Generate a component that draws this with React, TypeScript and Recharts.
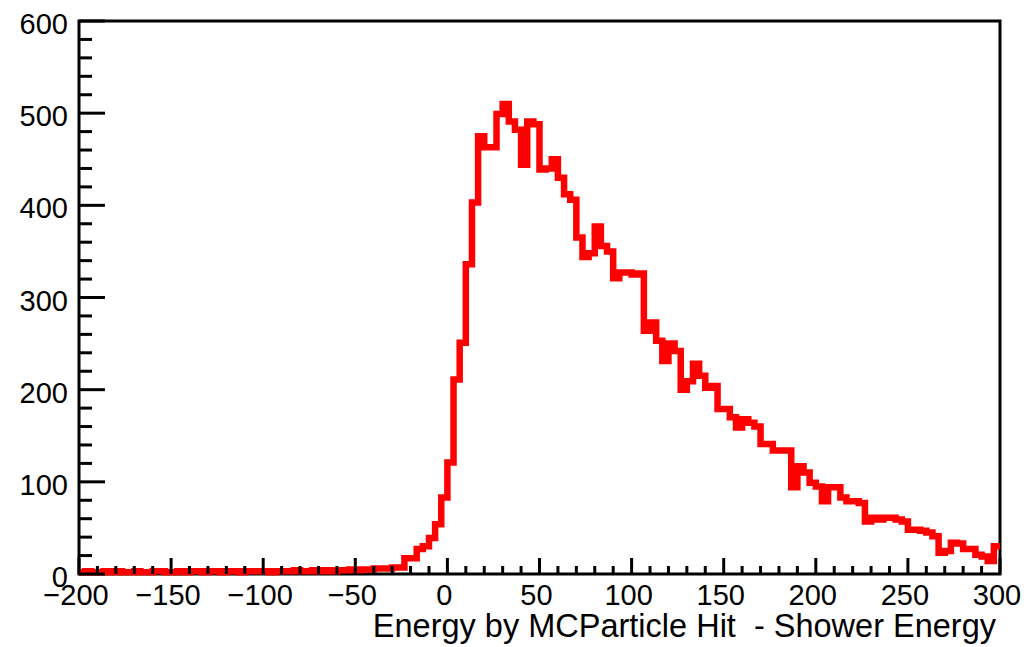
import { Label, Line, LineChart, ReferenceArea, XAxis, YAxis } from "recharts";

const X_MIN = -200;
const X_MAX = 300;
const BIN_WIDTH = 10 / 3;

// bins from -200 to -66.7
const tailCounts = [
  2, 3, 2, 2, 3, 2, 3, 2, 2, 3,
  2, 2, 3, 3, 2, 2, 3, 2, 3, 3,
  2, 3, 3, 2, 3, 3, 2, 3, 3, 3,
  3, 2, 3, 3, 3, 4, 3, 3, 4, 3,
];
// -66.7 .. -23.3
const preRiseCounts = [4, 3, 4, 4, 5, 4, 5, 5, 6, 6, 6, 7, 7];
// -23.3 .. 60
const peakCounts = [
  17, 17, 27, 30, 39, 54, 83, 121, 211, 251, 336, 403, 475, 463, 463, 499,
  510, 491, 482, 444, 491, 488, 439, 440, 450,
];
// 60 .. 300
const fallCounts = [
  430, 412, 406, 365, 344, 348, 377, 356, 350, 321,
  327, 327, 325, 326, 264, 273, 253, 231, 250, 242,
  200, 209, 228, 215, 202, 204, 179, 179, 170, 159,
  168, 164, 160, 141, 141, 134, 134, 134, 94, 117,
  110, 99, 95, 79, 94, 94, 83, 79, 79, 77,
  57, 61, 59, 61, 61, 59, 57, 48, 48, 47, 45, 41,
  23, 25, 34, 33, 27, 27, 21, 19, 14, 30,
];

const xTicks = Array.from({ length: 51 }, (_, i) => X_MIN + i * 10);
const yTicks = Array.from({ length: 31 }, (_, i) => i * 20);

const counts = [...tailCounts, ...preRiseCounts, ...peakCounts, ...fallCounts];
const data = counts.map((c, i) => ({ x: X_MIN + i * BIN_WIDTH, count: c }));
data.push({ x: X_MAX, count: counts[counts.length - 1] });

const FONT = "'Liberation Sans', Arial, Helvetica, sans-serif";

const fmt = (v: number) => (v < 0 ? "\u2212" + Math.abs(v) : String(v));

function XTick(props: any) {
  const { x, y, payload } = props;
  const v = payload.value;
  const major = v % 50 === 0;
  return (
    <g>
      <line x1={x} x2={x} y1={y} y2={y - (major ? 16 : 8)} stroke="#000" strokeWidth={3} />
      {major && (
        <text x={x - 3} y={y + 31} textAnchor="middle" fontSize={29} fontFamily={FONT} fill="#000">
          {fmt(v)}
        </text>
      )}
    </g>
  );
}

function YTick(props: any) {
  const { x, y, payload } = props;
  const v = payload.value;
  const major = v % 100 === 0;
  return (
    <g>
      <line x1={x} x2={x + (major ? 26 : 13)} y1={y} y2={y} stroke="#000" strokeWidth={3} />
      {major && (
        <text x={x - 11} y={y + 13} textAnchor="end" fontSize={29} fontFamily={FONT} fill="#000">
          {v}
        </text>
      )}
    </g>
  );
}

function XTitle(props: any) {
  const { viewBox } = props;
  return (
    <text
      x={viewBox.x + viewBox.width - 4}
      y={viewBox.y + viewBox.height - 10}
      textAnchor="end"
      fontSize={32.5}
      fontFamily={FONT}
      fill="#000"
      style={{ whiteSpace: "pre" }}
    >
      Energy by MCParticle Hit  - Shower Energy
    </text>
  );
}

export default function App() {
  return (
    <div style={{ position: "absolute", left: 0, top: 0, width: 1033, height: 647, background: "#fff" }}>
      <LineChart width={1033} height={647} data={data} margin={{ top: 21, right: 33, bottom: 0, left: 0 }}>
        <XAxis
          dataKey="x"
          type="number"
          domain={[X_MIN, X_MAX]}
          ticks={xTicks}
          interval={0}
          tickSize={0}
          tickMargin={0}
          tick={<XTick />}
          axisLine={false}
          height={73}
        >
          <Label content={<XTitle />} />
        </XAxis>
        <YAxis
          type="number"
          domain={[0, 600]}
          ticks={yTicks}
          interval={0}
          tickSize={0}
          tickMargin={0}
          tick={<YTick />}
          axisLine={false}
          width={79}
        />
        <Line
          type="stepAfter"
          dataKey="count"
          stroke="#ff0000"
          strokeWidth={6.5}
          strokeLinejoin="miter"
          dot={false}
          isAnimationActive={false}
        />
        <ReferenceArea x1={X_MIN} x2={X_MAX} y1={0} y2={600} fill="none" stroke="#000" strokeWidth={3} />
      </LineChart>
    </div>
  );
}
